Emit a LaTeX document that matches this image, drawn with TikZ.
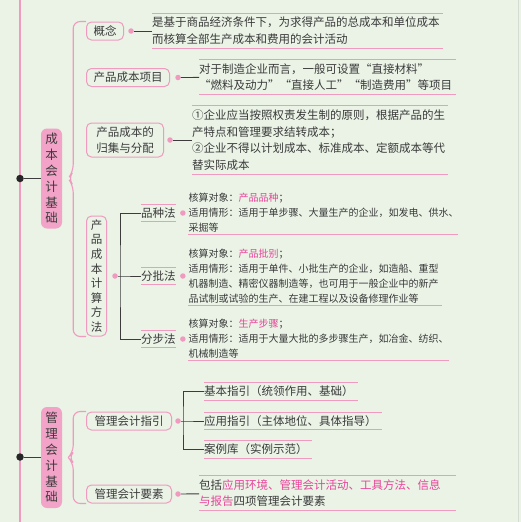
\documentclass[tikz,border=0pt]{standalone}
\usepackage{fontspec}
\setmainfont{Noto Sans CJK SC}
\usetikzlibrary{positioning}
\definecolor{Paper}{HTML}{EAF3E6}
\definecolor{Ink}{HTML}{3A3A3A}
\definecolor{Wire}{HTML}{3C3C3C}
\definecolor{Rose}{HTML}{F3A3C8}
\definecolor{Pink}{HTML}{F09AC0}
\definecolor{Hot}{HTML}{E8449A}
\definecolor{Edge}{HTML}{D5DAD2}
\newcommand{\hot}[1]{{\color{Hot}#1}}
\tikzset{
  spine/.style={draw=Pink,line width=1.3pt},
  hub/.style={circle,fill=black!85,inner sep=0pt,minimum size=7.5pt},
  pdot/.style={circle,fill=Pink,inner sep=0pt,minimum size=5.5pt},
  link/.style={draw=Wire,line width=.9pt},
  brace/.style={draw=Pink,line width=1.1pt,rounded corners=7pt},
  pk/.style={draw=Pink,line width=.9pt},
  mainbox/.style={rounded corners=6pt,fill=Rose,minimum width=21pt,inner sep=2pt,align=center,font=\fontsize{12.5}{15.8}\selectfont},
  topic/.style={rounded corners=5pt,draw=Pink,line width=1pt,fill=Paper,align=center,inner xsep=7pt,inner ysep=2pt,minimum height=18pt,anchor=west,font=\fontsize{11.5}{14}\selectfont},
  tline/.style={append after command={(\tikzlastnode.north west) edge[pk] (\tikzlastnode.north east)}},
  bline/.style={append after command={(\tikzlastnode.south west) edge[pk] (\tikzlastnode.south east)}},
  leaf/.style={tline,bline,anchor=west,align=left,inner xsep=0pt,inner ysep=2pt,font=\fontsize{11.5}{16.5}\selectfont},
  note/.style={bline,anchor=west,align=left,inner xsep=0pt,inner ysep=2pt,font=\fontsize{10}{15}\selectfont},
  method/.style={tline,bline,anchor=west,inner xsep=0pt,inner ysep=3pt,font=\fontsize{11.5}{14}\selectfont}
}
\begin{document}
\begin{tikzpicture}[x=1pt,y=-1pt,text=Ink]
    \fill[Paper,use as bounding box] (0,0) rectangle (521,522);
    \draw[Edge,line width=.8pt] (518,0) -- (518,522);
    \draw[spine] (20,0) -- (20,522);
    \node[hub] (h1) at (20,178.5) {}; \node[hub] (h2) at (20,457) {};
    \node[mainbox,minimum height=100pt] (cb) at (51.5,178.5) {成\\本\\会\\计\\基\\础};
    \node[mainbox,minimum height=101pt] (gl) at (51.5,457.5) {管\\理\\会\\计\\基\\础};
    \draw[link] (h1) -- (h1 -| cb.west);
    \draw[link] (h2) -- (h2 -| gl.west);
    % cost accounting branch
    \node[topic] (gn) at (86,31) {概念};
    \node[topic] (xm) at (86,77.5) {产品成本项目};
    \node[topic,minimum width=77pt,minimum height=34pt,font=\fontsize{11.5}{15.5}\selectfont] (gj) at (86,140) {产品成本的\\归集与分配};
    \node[topic,minimum width=20pt,minimum height=120pt,inner xsep=0pt,font=\fontsize{11.5}{14.6}\selectfont] (jf) at (86,276) {产\\品\\成\\本\\计\\算\\方\\法};
    \draw[brace] (gn.north west) -| ([xshift=11pt,yshift=7pt]cb.east) -- ([xshift=6pt]cb.east) -- ([xshift=11pt,yshift=-7pt]cb.east) |- (jf.south west);
    \node[pdot] (gnd) at (131,31) {}; \node[pdot] (xmd) at (178,77.5) {};
    \node[pdot] (gjd) at (170,140) {}; \node[pdot] (jfd) at (115,276) {};
    \node[leaf,text width=291pt,minimum height=34pt,font=\fontsize{11.5}{17}\selectfont] (lf1) at (152,31) {是基于商品经济条件下，为求得产品的总成本和单位成本\\而核算全部生产成本和费用的会计活动};
    \node[leaf,text width=257pt,minimum height=34pt,font=\fontsize{11.5}{16.5}\selectfont\addfontfeature{RawFeature=+fwid}] (lf2) at (199,77) {对于制造企业而言，一般可设置“直接材料”\\“燃料及动力”“直接人工”“制造费用”等项目};
    \node[leaf,text width=256pt,minimum height=68pt] (lf3) at (192,140) {①企业应当按照权责发生制的原则，根据产品的生\\产特点和管理要求结转成本；\\②企业不得以计划成本、标准成本、定额成本等代\\替实际成本};
    \draw[link] (gnd) -- (lf1); \draw[link] (xmd) -- (lf2); \draw[link] (gjd) -- (lf3);
    \node[method] (m1) at (141,213) {品种法};
    \node[method] (m2) at (141,276) {分批法};
    \node[method] (m3) at (141,339) {分步法};
    \coordinate (jfj) at (120,276);
    \draw[link] (jfd) -- (jfj) -- (m2.west);
    \draw[link] (m1.west) -| (jfj) |- (m3.west);
    \node[pdot,right=4pt of m1] (m1d) {}; \node[pdot,right=4pt of m2] (m2d) {}; \node[pdot,right=4pt of m3] (m3d) {};
    \node[note,text width=269pt,right=2.5pt of m1d] (t1) {核算对象：\hot{产品品种}；\\适用情形：适用于单步骤、大量生产的企业，如发电、供水、\\采掘等};
    \node[note,text width=253pt,right=2.5pt of m2d] (t2) {核算对象：\hot{产品批别}；\\适用情形：适用于单件、小批生产的企业，如造船、重型\\机器制造、精密仪器制造等，也可用于一般企业中的新产\\品试制或试验的生产、在建工程以及设备修理作业等};
    \node[note,text width=260pt,right=2.5pt of m3d] (t3) {核算对象：\hot{生产步骤}；\\适用情形：适用于大量大批的多步骤生产，如冶金、纺织、\\机械制造等};
    % management accounting branch
    \node[topic,minimum width=85pt] (zy) at (86,421) {管理会计指引};
    \node[topic,minimum width=85pt] (ys) at (86,494) {管理会计要素};
    \draw[brace] (zy.north west) -| ([xshift=11pt,yshift=5pt]gl.east) -- ([xshift=6pt]gl.east) -- ([xshift=11pt,yshift=-5pt]gl.east) |- (ys.south west);
    \node[pdot] (zyd) at (178,421) {}; \node[pdot] (ysd) at (178,494) {};
    \node[leaf,text width=154pt,minimum height=17pt] (g1) at (204,391.5) {基本指引（统领作用、基础）};
    \node[leaf,text width=178pt,minimum height=17pt] (g2) at (204,421) {应用指引（主体地位、具体指导）};
    \node[leaf,text width=108pt,minimum height=17pt] (g3) at (204,449.5) {案例库（实例示范）};
    \coordinate (zyj) at (183,421);
    \draw[link] (zyd) -- (zyj) -- (g2.west);
    \draw[link] (g1.west) -| (zyj) |- (g3.west);
    \node[leaf,text width=257pt,minimum height=34pt] (lf4) at (199,493) {包括\hot{应用环境、管理会计活动、工具方法、信息}\\\hot{与报告}四项管理会计要素};
    \draw[link] (ysd) -- (lf4);
\end{tikzpicture}
\end{document}
